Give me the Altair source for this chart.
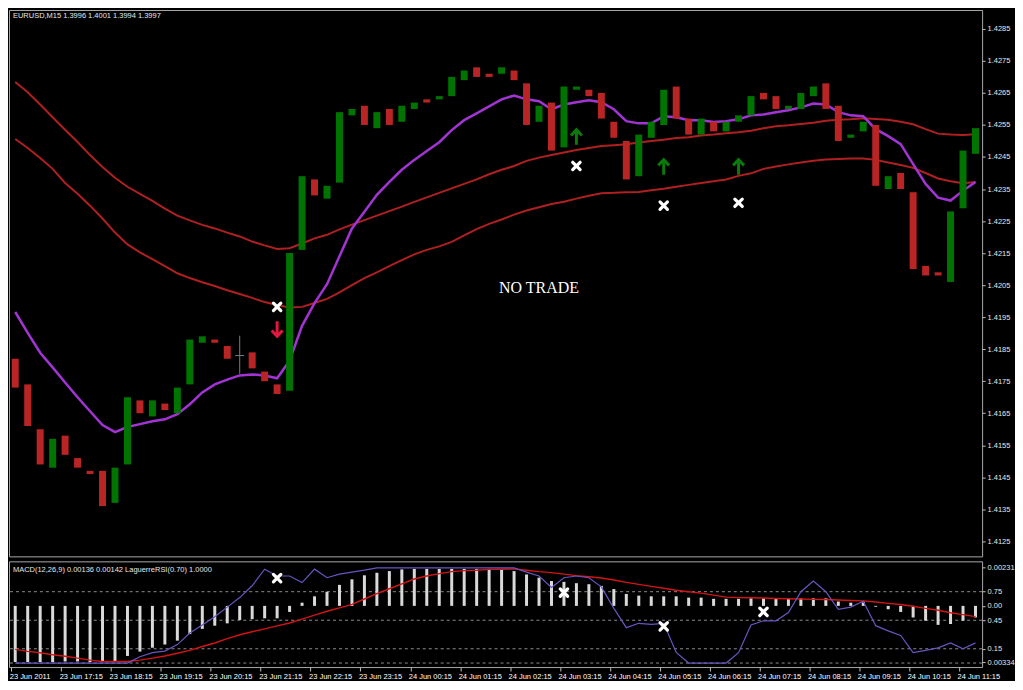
import altair as alt
import pandas as pd

# ---------------- data ----------------
bar_index = list(range(78))

opens = [1.4182, 1.4174, 1.4160, 1.4148, 1.4158, 1.4151, 1.4147, 1.4147, 1.4137, 1.4149,
         1.4169, 1.4164, 1.4168, 1.4165, 1.4174, 1.4187, 1.4188, 1.4186, 1.4183, 1.4184,
         1.4178, 1.4174, 1.4172, 1.4216, 1.4238, 1.4232, 1.4237, 1.4258, 1.4261, 1.4254,
         1.4260, 1.4256, 1.4260, 1.4263, 1.4263, 1.4264, 1.4269, 1.4273, 1.4271, 1.4271,
         1.4272, 1.4268, 1.4256, 1.4262, 1.4248, 1.4266, 1.4266, 1.4265, 1.4256, 1.4250,
         1.4239, 1.4251, 1.4255, 1.4267, 1.4257, 1.4252, 1.4256, 1.4253, 1.4256, 1.4258,
         1.4265, 1.4264, 1.4260, 1.4260, 1.4264, 1.4268, 1.4261, 1.4251, 1.4253, 1.4255,
         1.4235, 1.4240, 1.4234, 1.4211, 1.4209, 1.4206, 1.4229, 1.4246]
closes = [1.4173, 1.4161, 1.4149, 1.4157, 1.4152, 1.4148, 1.4146, 1.4136, 1.4148, 1.4170,
          1.4165, 1.4169, 1.4166, 1.4173, 1.4188, 1.4189, 1.4187, 1.4182, 1.4183, 1.4179,
          1.4175, 1.4171, 1.4215, 1.4239, 1.4233, 1.4236, 1.4259, 1.4260, 1.4255, 1.4259,
          1.4255, 1.4261, 1.4262, 1.4262, 1.4264, 1.4270, 1.4272, 1.4270, 1.4270, 1.4273,
          1.4269, 1.4255, 1.4261, 1.4247, 1.4267, 1.4267, 1.4264, 1.4257, 1.4251, 1.4238,
          1.4252, 1.4256, 1.4266, 1.4257, 1.4252, 1.4257, 1.4253, 1.4256, 1.4258, 1.4264,
          1.4263, 1.4260, 1.4261, 1.4265, 1.4267, 1.4260, 1.4250, 1.4252, 1.4256, 1.4236,
          1.4239, 1.4235, 1.4210, 1.4208, 1.4208, 1.4228, 1.4247, 1.4254]

ma_fast = [1.41966, 1.41901, 1.41839, 1.41793, 1.41746, 1.41700, 1.41656, 1.41613, 1.41591, 1.41607,
           1.41616, 1.41625, 1.41631, 1.41647, 1.41678, 1.41715, 1.41740, 1.41755, 1.41768, 1.41771,
           1.41768, 1.41759, 1.41814, 1.41923, 1.41994, 1.42053, 1.42140, 1.42227, 1.42279, 1.42332,
           1.42372, 1.42410, 1.42441, 1.42469, 1.42496, 1.42534, 1.42565, 1.42586, 1.42608, 1.42630,
           1.42642, 1.42630, 1.42624, 1.42599, 1.42614, 1.42621, 1.42627, 1.42621, 1.42599, 1.42562,
           1.42555, 1.42555, 1.42577, 1.42574, 1.42565, 1.42565, 1.42559, 1.42562, 1.42568, 1.42580,
           1.42583, 1.42590, 1.42596, 1.42605, 1.42617, 1.42614, 1.42590, 1.42580, 1.42577, 1.42537,
           1.42515, 1.42490, 1.42428, 1.42366, 1.42323, 1.42314, 1.42345, 1.42372]

ma_upper = [1.42684, 1.42652, 1.42614, 1.42574, 1.42535, 1.42497, 1.42456, 1.42419, 1.42385, 1.42357,
            1.42335, 1.42313, 1.42289, 1.42267, 1.42252, 1.42238, 1.42227, 1.42214, 1.42202, 1.42186,
            1.42174, 1.42163, 1.42165, 1.42180, 1.42196, 1.42207, 1.42224, 1.42239, 1.42253, 1.42267,
            1.42281, 1.42295, 1.42310, 1.42324, 1.42338, 1.42352, 1.42366, 1.42380, 1.42396, 1.42410,
            1.42422, 1.42438, 1.42448, 1.42456, 1.42464, 1.42472, 1.42478, 1.42484, 1.42487, 1.42490,
            1.42495, 1.42500, 1.42504, 1.42509, 1.42512, 1.42517, 1.42520, 1.42524, 1.42527, 1.42532,
            1.42540, 1.42546, 1.42549, 1.42553, 1.42557, 1.42563, 1.42566, 1.42568, 1.42571, 1.42569,
            1.42566, 1.42560, 1.42552, 1.42537, 1.42523, 1.42520, 1.42519, 1.42521]

ma_lower = [1.42506, 1.42478, 1.42447, 1.42413, 1.42369, 1.42335, 1.42298, 1.42258, 1.42214, 1.42177,
            1.42152, 1.42131, 1.42109, 1.42087, 1.42072, 1.42059, 1.42047, 1.42034, 1.42022, 1.42010,
            1.41997, 1.41988, 1.41980, 1.41982, 1.41994, 1.42007, 1.42027, 1.42050, 1.42072, 1.42090,
            1.42109, 1.42128, 1.42146, 1.42160, 1.42171, 1.42185, 1.42205, 1.42225, 1.42241, 1.42255,
            1.42270, 1.42283, 1.42293, 1.42303, 1.42310, 1.42320, 1.42329, 1.42337, 1.42338, 1.42340,
            1.42341, 1.42346, 1.42351, 1.42357, 1.42363, 1.42369, 1.42374, 1.42380, 1.42391, 1.42399,
            1.42413, 1.42420, 1.42427, 1.42433, 1.42438, 1.42442, 1.42444, 1.42445, 1.42445, 1.42441,
            1.42433, 1.42425, 1.42416, 1.42400, 1.42383, 1.42374, 1.42368, 1.42372]

macd_hist = [-0.00334, -0.00334, -0.00334, -0.00334, -0.00331, -0.00331, -0.00334, -0.00334, -0.00334, -0.00298,
             -0.00272, -0.00249, -0.00230, -0.00207, -0.00168, -0.00137, -0.00118, -0.00104, -0.00084, -0.00079,
             -0.00074, -0.00074, -0.00036, 0.00019, 0.00057, 0.00084, 0.00125, 0.00158, 0.00182, 0.00197,
             0.00207, 0.00217, 0.00220, 0.00220, 0.00220, 0.00220, 0.00220, 0.00220, 0.00220, 0.00218,
             0.00207, 0.00187, 0.00168, 0.00148, 0.00143, 0.00135, 0.00129, 0.00119, 0.00100, 0.00071,
             0.00061, 0.00057, 0.00057, 0.00057, 0.00049, 0.00049, 0.00042, 0.00042, 0.00042, 0.00045,
             0.00045, 0.00042, 0.00042, 0.00045, 0.00045, 0.00045, 0.00026, 0.00019, 0.00026, -0.00005,
             -0.00020, -0.00036, -0.00069, -0.00088, -0.00113, -0.00108, -0.00088, -0.00069]

macd_signal = [-0.00259, -0.00271, -0.00279, -0.00291, -0.00300, -0.00311, -0.00323, -0.00331, -0.00331, -0.00331,
               -0.00323, -0.00311, -0.00298, -0.00282, -0.00265, -0.00242, -0.00221, -0.00195, -0.00172, -0.00154,
               -0.00137, -0.00119, -0.00102, -0.00079, -0.00055, -0.00032, -0.00012, 0.00009, 0.00041, 0.00073,
               0.00102, 0.00131, 0.00160, 0.00178, 0.00192, 0.00204, 0.00210, 0.00212, 0.00217, 0.00218,
               0.00220, 0.00212, 0.00204, 0.00198, 0.00189, 0.00180, 0.00173, 0.00166, 0.00154, 0.00140,
               0.00128, 0.00116, 0.00105, 0.00093, 0.00084, 0.00076, 0.00064, 0.00052, 0.00049, 0.00048,
               0.00047, 0.00044, 0.00042, 0.00041, 0.00039, 0.00038, 0.00035, 0.00032, 0.00030, 0.00023,
               0.00015, 0.00008, -0.00002, -0.00015, -0.00026, -0.00041, -0.00052, -0.00064]

laguerre_rsi = [0.0, 0.0, 0.0, 0.0, 0.0, 0.0, 0.0, 0.0, 0.0, 0.0,
                0.066, 0.109, 0.126, 0.194, 0.315, 0.400, 0.486, 0.588, 0.688, 0.812,
                0.987, 0.915, 0.915, 0.846, 0.987, 0.897, 0.935, 0.956, 0.976, 1.0,
                1.0, 1.0, 1.0, 1.0, 1.0, 1.0, 1.0, 1.0, 1.0, 1.0,
                1.0, 0.956, 0.915, 0.794, 0.897, 0.915, 0.897, 0.801, 0.575, 0.372,
                0.418, 0.407, 0.418, 0.112, 0.0, 0.0, 0.0, 0.0, 0.109, 0.400,
                0.444, 0.444, 0.531, 0.750, 0.863, 0.750, 0.565, 0.588, 0.650, 0.393,
                0.338, 0.290, 0.109, 0.133, 0.160, 0.212, 0.150, 0.212]

# doji candle (drawn as a grey cross)
doji_i = [18]
doji_high = [1.41892]
doji_low = [1.41773]
doji_level = [1.4183]

# signal markers on the price panel
exit_i = [21, 45, 52, 58]
exit_price = [1.41982, 1.42422, 1.42298, 1.42307]
buy_i = [45, 52, 58]
buy_price = [1.42512, 1.42419, 1.42419]
sell_i = [21]
sell_price = [1.41913]

# markers on the indicator panel (Laguerre RSI scale)
ind_x_i = [21, 44, 52, 60]
ind_x_rsi = [0.893, 0.741, 0.386, 0.538]

rsi_levels = [0.75, 0.45, 0.15, 0.0]

price_ticks = [1.4125, 1.4135, 1.4145, 1.4155, 1.4165, 1.4175, 1.4185, 1.4195, 1.4205,
               1.4215, 1.4225, 1.4235, 1.4245, 1.4255, 1.4265, 1.4275, 1.4285]

time_ticks = [0, 4, 8, 12, 16, 20, 24, 28, 32, 36, 40, 44, 48, 52, 56, 60, 64, 68, 72, 76]
time_labels = ["23 Jun 2011", "23 Jun 17:15", "23 Jun 18:15", "23 Jun 19:15", "23 Jun 20:15",
               "23 Jun 21:15", "23 Jun 22:15", "23 Jun 23:15", "24 Jun 00:15", "24 Jun 01:15",
               "24 Jun 02:15", "24 Jun 03:15", "24 Jun 04:15", "24 Jun 05:15", "24 Jun 06:15",
               "24 Jun 07:15", "24 Jun 08:15", "24 Jun 09:15", "24 Jun 10:15", "24 Jun 11:15"]

# right-hand labels of the indicator window (positions on the Laguerre RSI scale)
ind_axis_pos = [1.009, 0.75, 0.601, 0.45, 0.15, 0.01]
ind_axis_text = ["0.00231", "0.75", "0.00", "0.45", "0.15", "0.00334"]

price_header = "EURUSD,M15  1.3996 1.4001 1.3994 1.3997"
ind_header = "MACD(12,26,9) 0.00136 0.00142  LaguerreRSI(0.70) 1.0000"
note_text = "NO TRADE"
note_i = [42]
note_price = [1.42041]

# ---------------- styling ----------------
W = 976
H1 = 548
H2 = 106
FONT = "Liberation Sans"
FS = 7.5
GREEN = "#007400"
RED = "#b92424"
MA_RED = "#b02020"
PURPLE = "#a234d4"
LABEL = "#e6e6e6"
GRID = "#8c8c8c"

X_PATH = "M-1,-1L1,1M1,-1L-1,1"
UP_PATH = "M0,1L0,-0.9M-0.7,-0.2L0,-0.95L0.7,-0.2"
DOWN_PATH = "M0,-1L0,0.9M-0.7,0.2L0,0.95L0.7,0.2"
DASH_PATH = "M-1,0L1,0"

df = pd.DataFrame({
    "i": bar_index, "open": opens, "close": closes,
    "ma_fast": ma_fast, "ma_upper": ma_upper, "ma_lower": ma_lower,
    "macd": macd_hist, "signal": macd_signal, "lrsi": laguerre_rsi,
})

xscale = alt.Scale(domain=[-0.1, 77.13], nice=False, zero=False)
yscale = alt.Scale(domain=[1.41203, 1.42909], nice=False, zero=False)
macd_scale = alt.Scale(domain=[-0.00364, 0.00265], nice=False, zero=False)
rsi_scale = alt.Scale(domain=[-0.042, 1.069], nice=False, zero=False)

price_axis = alt.Axis(orient="right", values=price_ticks, format=".4f", title=None, grid=False,
                      domain=False, tickSize=3, tickColor="#c0c0c0", labelColor=LABEL,
                      labelFont=FONT, labelFontSize=FS, labelPadding=2, labelOverlap=False,
                      labelFlush=False)

xp = alt.X("i:Q", scale=xscale, axis=None)

base = alt.Chart(df)

upper = base.mark_line(color=MA_RED, strokeWidth=2).encode(
    x=xp, y=alt.Y("ma_upper:Q", scale=yscale, axis=price_axis))
lower = base.mark_line(color=MA_RED, strokeWidth=2).encode(
    x=xp, y=alt.Y("ma_lower:Q", scale=yscale, axis=price_axis))
fast = base.mark_line(color=PURPLE, strokeWidth=2.5).encode(
    x=xp, y=alt.Y("ma_fast:Q", scale=yscale, axis=price_axis))
candles = base.mark_bar(size=7).encode(
    x=xp,
    y=alt.Y("open:Q", scale=yscale, axis=price_axis),
    y2="close:Q",
    color=alt.condition("datum.close >= datum.open", alt.value(GREEN), alt.value(RED)),
)

doji_df = pd.DataFrame({"i": doji_i, "high": doji_high, "low": doji_low, "lvl": doji_level})
doji_v = alt.Chart(doji_df).mark_rule(color="#7a7a7a", strokeWidth=1).encode(
    x=xp, y=alt.Y("high:Q", scale=yscale, axis=price_axis), y2="low:Q")
doji_h = alt.Chart(doji_df).mark_point(shape=DASH_PATH, filled=False, color="#7a7a7a",
                                       strokeWidth=1, size=80, opacity=1).encode(
    x=xp, y=alt.Y("lvl:Q", scale=yscale, axis=price_axis))

exit_df = pd.DataFrame({"i": exit_i, "p": exit_price})
exits = alt.Chart(exit_df).mark_point(shape=X_PATH, filled=False, color="white", strokeWidth=3.2,
                                      size=55, opacity=1, strokeCap="round").encode(
    x=xp, y=alt.Y("p:Q", scale=yscale, axis=price_axis))

buy_df = pd.DataFrame({"i": buy_i, "p": buy_price})
buys = alt.Chart(buy_df).mark_point(shape=UP_PATH, filled=False, color="#0b7a0b", strokeWidth=3,
                                    size=240, opacity=1).encode(
    x=xp, y=alt.Y("p:Q", scale=yscale, axis=price_axis))

sell_df = pd.DataFrame({"i": sell_i, "p": sell_price})
sells = alt.Chart(sell_df).mark_point(shape=DOWN_PATH, filled=False, color="#e3173f", strokeWidth=3,
                                      size=240, opacity=1).encode(
    x=xp, y=alt.Y("p:Q", scale=yscale, axis=price_axis))

note_df = pd.DataFrame({"i": note_i, "p": note_price, "t": [note_text]})
note = alt.Chart(note_df).mark_text(font="Liberation Serif", fontSize=16, color="white").encode(
    x=xp, y=alt.Y("p:Q", scale=yscale, axis=price_axis), text="t:N")

head1 = alt.Chart(pd.DataFrame({"t": [price_header]})).mark_text(
    align="left", baseline="middle", font=FONT, fontSize=FS, color=LABEL).encode(
    x=alt.value(4), y=alt.value(6), text="t:N")

price_panel = alt.layer(upper, lower, fast, candles, doji_v, doji_h, exits, buys, sells, note, head1).properties(
    width=W, height=H1)

# ---------------- indicator panel ----------------
tick_js = "[" + ",".join(str(v) for v in time_ticks) + "]"
lab_js = "[" + ",".join("'" + s + "'" for s in time_labels) + "]"
time_axis = alt.Axis(values=time_ticks, labelExpr=lab_js + "[indexof(" + tick_js + ", datum.value)]",
                     labelAlign="left", labelFlush=False, labelOverlap=False, tickSize=4,
                     tickOffset=-4, labelOffset=-2, labelPadding=1, labelFont=FONT,
                     labelFontSize=FS, labelColor="white", tickColor="#c0c0c0", domain=False,
                     grid=False, title=None)
xm = alt.X("i:Q", scale=xscale, axis=time_axis)

pos_js = "[" + ",".join(str(v) for v in ind_axis_pos) + "]"
txt_js = "[" + ",".join("'" + s + "'" for s in ind_axis_text) + "]"
ind_axis = alt.Axis(orient="right", values=ind_axis_pos,
                    labelExpr=txt_js + "[indexof(" + pos_js + ", datum.value)]",
                    title=None, grid=False, domain=False, tickSize=3, tickColor="#c0c0c0",
                    labelColor=LABEL, labelFont=FONT, labelFontSize=FS, labelPadding=2,
                    labelOverlap=False, labelFlush=False)

levels = alt.Chart(pd.DataFrame({"lvl": rsi_levels})).mark_rule(
    color=GRID, strokeDash=[3, 3], strokeWidth=1).encode(
    y=alt.Y("lvl:Q", scale=rsi_scale, axis=None))
hist = base.mark_bar(size=3, color="#d9d9d9").encode(
    x=xm, y=alt.Y("macd:Q", scale=macd_scale, axis=None), y2=alt.datum(0))
signal = base.mark_line(color="#d41414", strokeWidth=1.4).encode(
    x=xm, y=alt.Y("signal:Q", scale=macd_scale, axis=None))
lrsi = base.mark_line(color="#6656c0", strokeWidth=1.2).encode(
    x=xm, y=alt.Y("lrsi:Q", scale=rsi_scale, axis=ind_axis))
ind_df = pd.DataFrame({"i": ind_x_i, "r": ind_x_rsi})
ind_marks = alt.Chart(ind_df).mark_point(shape=X_PATH, filled=False, color="white", strokeWidth=3.2,
                                         size=55, opacity=1, strokeCap="round").encode(
    x=xm, y=alt.Y("r:Q", scale=rsi_scale, axis=None))
head2 = alt.Chart(pd.DataFrame({"t": [ind_header]})).mark_text(
    align="left", baseline="middle", font=FONT, fontSize=FS, color=LABEL).encode(
    x=alt.value(4), y=alt.value(9), text="t:N")

ind_panel = alt.layer(levels, hist, signal, lrsi, ind_marks, head2).resolve_scale(
    y="independent").properties(width=W, height=H2)

chart = alt.vconcat(price_panel, ind_panel, spacing=3).properties(padding=0).configure(
    background="#000000").configure_view(stroke="#a8a8a8", strokeWidth=1)

chart.save("out.html", embed_options={"renderer": "svg", "actions": False})
